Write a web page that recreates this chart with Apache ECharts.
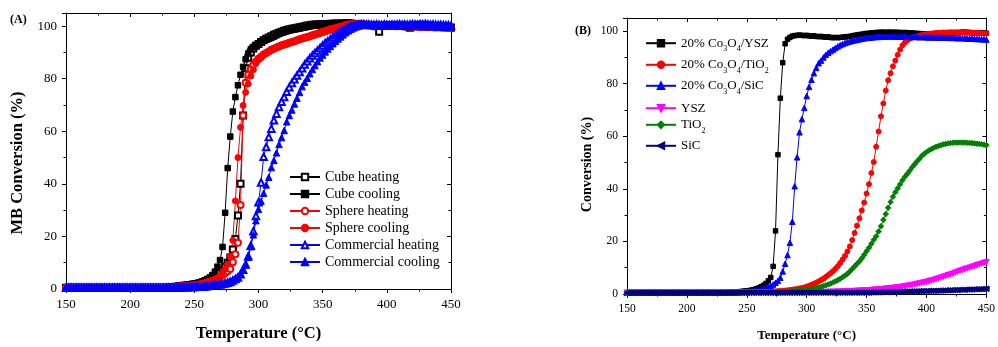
<!DOCTYPE html>
<html>
<head>
<meta charset="utf-8">
<script src="https://cdn.jsdelivr.net/npm/echarts@6/dist/echarts.min.js"></script>
<style>
html, body { margin: 0; padding: 0; background: #fff; }
#chart { width: 998px; height: 347px; }
</style>
</head>
<body>
<div id="chart"></div>
<script>
// sample temperatures (°C), shared by both panels
const temps = [
  150,152,154,156,158,160,162,164,166,168,
  170,172,174,176,178,180,182,184,186,188,
  190,192,194,196,198,200,202,204,206,208,
  210,212,214,216,218,220,222,224,226,228,
  230,232,234,236,238,240,242,244,246,248,
  250,252,254,256,258,260,262,264,266,268,
  270,272,274,276,278,280,282,284,286,288,
  290,292,294,296,298,300,302,304,306,308,
  310,312,314,316,318,320,322,324,326,328,
  330,332,334,336,338,340,342,344,346,348,
  350,352,354,356,358,360,362,364,366,368,
  370,372,374,376,378,380,382,384,386,388,
  390,392,394,396,398,400,402,404,406,408,
  410,412,414,416,418,420,422,424,426,428,
  430,432,434,436,438,440,442,444,446,448,
  450
];

// ---- panel A: MB conversion (%) ----
const cubeHeating = [
  0.5,0.5,0.5,0.5,0.5,0.5,0.5,0.5,0.5,0.5,
  0.5,0.5,0.5,0.5,0.5,0.5,0.5,0.5,0.5,0.5,
  0.5,0.5,0.5,0.5,0.5,0.5,0.5,0.5,0.5,0.5,
  0.5,0.5,0.5,0.5,0.5,0.5,0.5,0.5,0.5,0.5,
  0.6,0.7,0.8,0.9,1,1.1,1.2,1.3,1.4,1.5,
  1.6,1.8,2,2.3,2.6,3,3.4,4,4.6,5.4,
  6.2,7.2,8.5,10,12,15,19,28,40,66,
  84,88,90,91.5,92.5,93.2,94,94.6,95.2,95.7,
  96.2,96.7,97.1,97.5,97.9,98.2,98.5,98.8,99,99.2,
  99.4,99.6,99.8,100,100.2,100.3,100.5,100.6,100.6,100.7,
  100.7,100.8,100.8,100.9,100.9,101,100.9,101,101,101.1,
  101.2,101,100.8,100.7,100.6,100.5,100.4,100.4,100.3,100.3,
  100.2,100,97.9,100.1,100.2,100.3,100.2,100.3,100.2,100.2,
  100.3,100.2,100.1,99.9,99.4,100.2,100.4,100.3,100.5,100.3,
  100.2,100.3,100.1,100,100.1,99.9,100,99.8,99.7,99.6,
  99.5
];
const cubeCooling = [
  0.5,0.5,0.5,0.5,0.5,0.5,0.5,0.5,0.5,0.5,
  0.5,0.5,0.5,0.5,0.5,0.5,0.5,0.5,0.5,0.5,
  0.5,0.5,0.5,0.5,0.5,0.5,0.5,0.5,0.5,0.5,
  0.5,0.5,0.5,0.5,0.5,0.5,0.5,0.5,0.5,0.5,
  0.7,0.8,0.9,1,1.1,1.3,1.5,1.6,1.8,2,
  2.1,2.3,2.6,2.9,3.3,3.8,4.4,5.3,6.6,8.5,
  11,16,29,46,58,67.5,73,77.5,81.5,84.5,
  87.4,89.6,91.2,92.1,92.8,93.4,93.9,94.4,94.8,95.2,
  95.6,96,96.5,97,97.4,97.7,98,98.3,98.5,98.7,
  98.9,99.1,99.3,99.5,99.7,99.9,100.1,100.2,100.3,100.4,
  100.5,100.5,100.6,100.6,100.7,100.7,100.6,100.7,100.7,100.8,
  100.7,100.6,100.6,100.5,100.5,100.4,100.4,100.5,100.4,100.3,
  100.3,100.4,100.3,100.2,100.3,100.2,100.1,100.2,100.2,100.1,
  100.1,100.2,100.1,100,100.1,100.2,100.1,100,99.9,100,
  100,99.9,100,99.8,99.9,99.7,99.8,99.6,99.4,99.2,
  99
];
const sphereHeating = [
  0.5,0.5,0.5,0.5,0.5,0.5,0.5,0.5,0.5,0.5,
  0.5,0.5,0.5,0.5,0.5,0.5,0.5,0.5,0.5,0.5,
  0.5,0.5,0.5,0.5,0.5,0.5,0.5,0.5,0.5,0.5,
  0.5,0.5,0.5,0.5,0.5,0.5,0.5,0.5,0.5,0.5,
  0.6,0.6,0.7,0.8,0.9,1,1,1.1,1.2,1.3,
  1.4,1.5,1.7,1.9,2.1,2.4,2.7,3,3.4,3.9,
  4.5,5.2,6,6.8,7.6,10.2,13.2,17.6,32,66,
  78.5,81.5,83.6,85.3,86.5,87.6,88.4,89.2,89.8,90.4,
  91,91.4,91.9,92.3,92.7,93,93.3,93.7,94,94.3,
  94.6,95,95.3,95.6,95.9,96.2,96.5,96.8,97.1,97.5,
  97.8,98.1,98.4,98.7,99,99.2,99.5,99.8,100.1,100.4,
  100.6,100.7,100.8,100.8,100.7,100.7,100.6,100.6,100.5,100.5,
  100.4,100.4,100.3,100.3,100.2,100.2,100.1,100.2,100.1,100,
  100.1,100,99.9,100,99.9,99.8,99.9,99.8,99.7,99.8,
  99.7,99.6,99.7,99.6,99.5,99.6,99.5,99.4,99.5,99.4,
  99.3
];
const sphereCooling = [
  0.5,0.5,0.5,0.5,0.5,0.5,0.5,0.5,0.5,0.5,
  0.5,0.5,0.5,0.5,0.5,0.5,0.5,0.5,0.5,0.5,
  0.5,0.5,0.5,0.5,0.5,0.5,0.5,0.5,0.5,0.5,
  0.5,0.5,0.5,0.5,0.5,0.5,0.5,0.5,0.5,0.5,
  0.6,0.7,0.8,0.9,0.9,1,1.1,1.2,1.3,1.4,
  1.5,1.7,1.9,2.1,2.4,2.7,3,3.3,3.6,4,
  5,6.2,7.6,9.4,12.5,18.5,33.5,50,61.5,69.8,
  74.8,78,81,83.4,85.8,87.2,88,89,89.7,90.3,
  90.8,91.3,91.8,92.2,92.5,92.8,93.1,93.5,93.8,94.1,
  94.5,94.8,95.1,95.4,95.7,96,96.3,96.6,96.9,97.2,
  97.6,97.9,98.2,98.4,98.7,98.9,99.2,99.5,99.8,100.1,
  100.4,100.5,100.6,100.6,100.5,100.5,100.4,100.4,100.3,100.3,
  100.3,100.2,100.2,100.1,100.2,100.1,100.1,100,100.1,100,
  100,99.9,99.9,99.8,99.9,99.8,99.7,99.7,99.6,99.7,
  99.6,99.5,99.6,99.5,99.4,99.5,99.4,99.3,99.4,99.3,
  99.2
];
const commHeating = [
  0.5,0.5,0.5,0.5,0.5,0.5,0.5,0.5,0.5,0.5,
  0.5,0.5,0.5,0.5,0.5,0.5,0.5,0.5,0.5,0.5,
  0.5,0.5,0.5,0.5,0.5,0.5,0.5,0.5,0.5,0.5,
  0.5,0.5,0.5,0.5,0.5,0.5,0.5,0.5,0.5,0.5,
  0.5,0.5,0.6,0.6,0.6,0.7,0.7,0.7,0.8,0.8,
  0.8,0.9,0.9,1,1,1.1,1.2,1.3,1.4,1.5,
  1.7,1.9,2.1,2.4,2.7,3.2,3.8,4.4,5.6,7.3,
  9.3,12.5,16.5,22,27.8,33,40.5,50.3,54,57.8,
  61,64.2,66.7,69.2,71.2,73,75,76.8,78.4,79.8,
  81.2,82.6,84,85.4,86.6,87.8,88.8,89.8,90.7,91.7,
  92.6,93.6,94.3,95,95.8,96.5,97.2,97.8,98.4,99,
  99.5,99.9,100.3,100.5,100.6,100.7,100.7,100.6,100.6,100.5,
  100.5,100.6,100.5,100.4,100.6,100.5,100.4,100.6,100.5,100.6,
  100.7,100.5,100.6,100.5,100.6,100.7,100.6,100.5,100.7,100.6,
  100.8,100.6,100.5,100.6,100.5,100.4,100.5,100.4,100.3,100.3,
  100.2
];
const commCooling = [
  0.5,0.5,0.5,0.5,0.5,0.5,0.5,0.5,0.5,0.5,
  0.5,0.5,0.5,0.5,0.5,0.5,0.5,0.5,0.5,0.5,
  0.5,0.5,0.5,0.5,0.5,0.5,0.5,0.5,0.5,0.5,
  0.5,0.5,0.5,0.5,0.5,0.5,0.5,0.5,0.5,0.5,
  0.5,0.5,0.5,0.5,0.6,0.6,0.6,0.6,0.6,0.6,
  0.6,0.7,0.7,0.8,0.8,0.9,1,1.2,1.4,1.6,
  1.9,2.1,2.4,2.7,3.1,3.5,4,4.8,5.9,7.4,
  9.2,12.1,16.1,20.6,26,30.3,33.4,36.4,39.6,42.5,
  46.2,48.9,51.8,55,57.6,60.3,63.6,66,68.1,70.4,
  72.6,74.8,77,78.7,80.2,81.9,83.5,85,86.5,87.9,
  89,90.2,91.3,92.3,93.3,94.2,95.1,95.9,96.7,97.5,
  98.2,98.8,99.3,99.7,100,100.2,100.3,100.4,100.4,100.3,
  100.3,100.2,100.3,100.2,100.1,100.2,100.1,100.2,100.1,100,
  100.1,100,100.1,100,99.9,100,99.9,100,99.9,99.8,
  99.9,99.8,99.9,99.8,99.7,99.8,99.7,99.6,99.7,99.6,
  99.6
];

// ---- panel B: conversion (%) ----
const co3o4Ysz = [
  0.5,0.5,0.5,0.5,0.5,0.5,0.5,0.5,0.5,0.5,
  0.5,0.5,0.5,0.5,0.5,0.5,0.5,0.5,0.5,0.5,
  0.5,0.5,0.5,0.5,0.5,0.5,0.5,0.5,0.5,0.5,
  0.5,0.5,0.5,0.5,0.5,0.5,0.5,0.5,0.5,0.5,
  0.5,0.6,0.6,0.7,0.7,0.8,0.8,0.9,1,1.1,
  1.2,1.3,1.5,1.7,2,2.3,2.8,3.3,4,5,
  6.3,10.5,24,53,74.5,88,95.2,96.9,97.6,98.1,
  98.3,98.4,98.5,98.4,98.3,98.4,98.2,98.1,98.2,98,
  97.9,98,97.8,97.7,97.8,97.6,97.5,97.6,97.5,97.6,
  97.7,97.8,97.9,98,98.2,98.4,98.5,98.7,98.8,99,
  99.1,99.2,99.3,99.4,99.5,99.5,99.6,99.6,99.5,99.6,
  99.6,99.5,99.6,99.5,99.5,99.4,99.5,99.4,99.3,99.3,
  99.2,99.1,99.1,99,98.9,98.9,98.8,98.7,98.8,98.7,
  98.7,98.8,98.8,98.9,99,99.1,99.2,99.3,99.4,99.5,
  99.6,99.6,99.5,99.5,99.4,99.4,99.3,99.4,99.3,99.3,
  99.2
];
const co3o4Tio2 = [
  0.5,0.5,0.5,0.5,0.5,0.5,0.5,0.5,0.5,0.5,
  0.5,0.5,0.5,0.5,0.5,0.5,0.5,0.5,0.5,0.5,
  0.5,0.5,0.5,0.5,0.5,0.5,0.5,0.5,0.5,0.5,
  0.5,0.5,0.5,0.5,0.5,0.5,0.5,0.5,0.5,0.5,
  0.5,0.5,0.5,0.5,0.5,0.6,0.6,0.6,0.6,0.6,
  0.6,0.6,0.7,0.7,0.7,0.8,0.8,0.8,0.9,0.9,
  0.9,1,1,1.1,1.1,1.2,1.3,1.4,1.5,1.6,
  1.8,1.9,2.1,2.3,2.5,2.8,3.1,3.5,3.9,4.3,
  4.8,5.3,5.8,6.5,7.2,7.9,8.7,9.6,10.6,11.8,
  13.1,14.5,16.2,18.1,20.5,23.2,26,28.8,31.8,34.8,
  38.2,41.8,46,50.2,56,61.8,67.6,72.5,77.4,81.3,
  84,86.6,88.8,91,93,94.6,95.7,96.5,97.1,97.5,
  97.8,98,98.3,98.5,98.7,98.8,99,99.1,99.2,99.3,
  99.4,99.4,99.5,99.5,99.5,99.6,99.5,99.6,99.5,99.5,
  99.5,99.4,99.5,99.4,99.3,99.4,99.3,99.2,99.2,99.1,
  99.1
];
const co3o4Sic = [
  0.5,0.5,0.5,0.5,0.5,0.5,0.5,0.5,0.5,0.5,
  0.5,0.5,0.5,0.5,0.5,0.5,0.5,0.5,0.5,0.5,
  0.5,0.5,0.5,0.5,0.5,0.5,0.5,0.5,0.5,0.5,
  0.5,0.5,0.5,0.5,0.5,0.5,0.5,0.5,0.5,0.5,
  0.5,0.5,0.5,0.6,0.6,0.6,0.7,0.7,0.8,0.8,
  0.9,1,1.1,1.2,1.3,1.5,1.7,2,2.3,2.7,
  3.1,3.6,4.3,5,6.2,8.6,11.5,14.8,19.5,27.5,
  41,52,61.5,66.5,70.8,75.3,78.8,81.5,84,86,
  87.8,88.8,90,91,91.8,92.4,93,93.6,94.2,94.7,
  95.1,95.5,95.8,96.1,96.3,96.5,96.7,96.9,97.1,97.3,
  97.4,97.5,97.6,97.7,97.8,97.8,97.9,97.9,97.9,98,
  98,97.9,98,97.9,97.9,98,97.9,97.9,97.8,97.9,
  97.8,97.8,97.7,97.8,97.7,97.7,97.6,97.7,97.6,97.6,
  97.6,97.5,97.6,97.5,97.5,97.4,97.5,97.4,97.3,97.4,
  97.3,97.3,97.2,97.2,97.1,97.1,97,97,96.9,96.9,
  96.8
];
const ysz = [
  0.5,0.5,0.5,0.5,0.5,0.5,0.5,0.5,0.5,0.5,
  0.5,0.5,0.5,0.5,0.5,0.5,0.5,0.5,0.5,0.5,
  0.5,0.5,0.5,0.5,0.5,0.5,0.5,0.5,0.5,0.5,
  0.5,0.5,0.5,0.5,0.5,0.5,0.5,0.5,0.5,0.5,
  0.5,0.5,0.5,0.5,0.5,0.5,0.5,0.5,0.5,0.5,
  0.5,0.5,0.5,0.5,0.5,0.5,0.5,0.5,0.5,0.5,
  0.5,0.5,0.5,0.5,0.5,0.5,0.5,0.5,0.5,0.5,
  0.5,0.5,0.5,0.5,0.6,0.6,0.6,0.6,0.6,0.6,
  0.7,0.7,0.7,0.7,0.8,0.8,0.8,0.8,0.9,0.9,
  0.9,1,1,1,1.1,1.1,1.2,1.2,1.3,1.3,
  1.4,1.4,1.5,1.6,1.6,1.7,1.8,1.9,2,2.1,
  2.2,2.3,2.4,2.5,2.6,2.8,2.9,3.1,3.2,3.4,
  3.6,3.8,4,4.2,4.4,4.6,4.8,5.1,5.3,5.6,
  5.9,6.2,6.5,6.8,7.1,7.4,7.7,8.1,8.5,8.8,
  9.1,9.4,9.7,10,10.3,10.6,10.9,11.2,11.5,11.8,
  12.1
];
const tio2 = [
  0.5,0.5,0.5,0.5,0.5,0.5,0.5,0.5,0.5,0.5,
  0.5,0.5,0.5,0.5,0.5,0.5,0.5,0.5,0.5,0.5,
  0.5,0.5,0.5,0.5,0.5,0.5,0.5,0.5,0.5,0.5,
  0.5,0.5,0.5,0.5,0.5,0.5,0.5,0.5,0.5,0.5,
  0.5,0.5,0.5,0.5,0.5,0.5,0.5,0.5,0.5,0.5,
  0.5,0.5,0.5,0.5,0.5,0.5,0.5,0.5,0.5,0.5,
  0.6,0.6,0.7,0.7,0.8,0.8,0.9,0.9,1,1,
  1.1,1.2,1.3,1.4,1.5,1.6,1.7,1.9,2.1,2.3,
  2.5,2.7,3,3.3,3.6,4,4.4,4.8,5.3,5.8,
  6.4,7,7.7,8.6,9.5,10.5,11.5,12.4,13.6,14.9,
  16.3,17.6,19.1,20.6,22,23.8,25.8,28.2,30.4,32.8,
  35,37,38.7,40.2,41.8,43.3,44.6,45.7,46.9,48.2,
  49.3,50.4,51.4,52.5,53.3,54,54.6,55.1,55.6,56,
  56.3,56.6,56.9,57.1,57.3,57.4,57.5,57.6,57.6,57.6,
  57.6,57.6,57.5,57.5,57.4,57.3,57.2,57.1,57,56.8,
  56.6
];
const sic = [
  0.5,0.5,0.5,0.5,0.5,0.5,0.5,0.5,0.5,0.5,
  0.5,0.5,0.5,0.5,0.5,0.5,0.5,0.5,0.5,0.5,
  0.5,0.5,0.5,0.5,0.5,0.5,0.5,0.5,0.5,0.5,
  0.5,0.5,0.5,0.5,0.5,0.5,0.5,0.5,0.5,0.5,
  0.5,0.5,0.5,0.5,0.5,0.5,0.5,0.5,0.5,0.5,
  0.5,0.5,0.5,0.5,0.5,0.5,0.5,0.5,0.5,0.5,
  0.5,0.5,0.5,0.5,0.5,0.5,0.5,0.5,0.5,0.5,
  0.5,0.5,0.5,0.5,0.5,0.5,0.5,0.5,0.5,0.5,
  0.5,0.5,0.5,0.5,0.5,0.5,0.5,0.5,0.5,0.5,
  0.5,0.5,0.5,0.5,0.5,0.5,0.5,0.5,0.5,0.5,
  0.5,0.5,0.6,0.6,0.6,0.6,0.7,0.7,0.7,0.7,
  0.8,0.8,0.8,0.8,0.9,0.9,0.9,0.9,1,1,
  1,1,1.1,1.1,1.1,1.1,1.2,1.2,1.2,1.2,
  1.3,1.3,1.3,1.4,1.4,1.4,1.5,1.5,1.5,1.6,
  1.6,1.6,1.7,1.7,1.7,1.8,1.8,1.8,1.9,1.9,
  2
];

const namesA = ['Cube heating', 'Cube cooling', 'Sphere heating', 'Sphere cooling', 'Commercial heating', 'Commercial cooling'];
const namesB = ['20% Co3O4/YSZ', '20% Co3O4/TiO2', '20% Co3O4/SiC', 'YSZ', 'TiO2', 'SiC'];
const xTicks = [150, 450, 50];
const yTicks = [0, 105, 20];

const FONT = '"Liberation Serif", "Times New Roman", serif';

function pair(vals) {
  return temps.map((t, i) => [t, vals[i]]);
}

function xAxis(gridIndex, pos, labelSize, nameSize, nameGap) {
  const main = pos === 'bottom';
  return {
    type: 'value', gridIndex, position: pos,
    min: xTicks[0], max: xTicks[1], interval: xTicks[2],
    name: main ? 'Temperature (°C)' : '',
    nameLocation: 'middle', nameGap,
    nameTextStyle: { fontFamily: FONT, fontWeight: 'bold', fontSize: nameSize, color: '#000' },
    axisLine: { show: true, onZero: false, lineStyle: { color: '#000', width: 1 } },
    axisTick: { show: true, inside: !main, length: 4, lineStyle: { color: '#000' } },
    minorTick: { show: true, splitNumber: 2, length: 2.5, lineStyle: { color: '#000' } },
    axisLabel: { show: main, fontFamily: FONT, fontSize: labelSize, color: '#000', margin: 9 },
    splitLine: { show: false },
  };
}

function yAxis(gridIndex, pos, labelSize, name, nameSize, nameGap, shift) {
  const main = pos === 'left';
  return {
    type: 'value', gridIndex, position: pos,
    min: yTicks[0], max: yTicks[1], interval: yTicks[2],
    name: main ? name : '',
    nameLocation: 'middle', nameGap,
    nameTextStyle: { fontFamily: FONT, fontWeight: 'bold', fontSize: nameSize, color: '#000', padding: [0, shift, 0, 0] },
    axisLine: { show: true, onZero: false, lineStyle: { color: '#000', width: 1 } },
    axisTick: { show: true, inside: !main, length: 4, lineStyle: { color: '#000' } },
    minorTick: { show: true, splitNumber: 2, length: 2.5, lineStyle: { color: '#000' } },
    axisLabel: {
      show: main, fontFamily: FONT, fontSize: labelSize, color: '#000', margin: 9,
      formatter: (v) => (v % 20 === 0 ? String(v) : ''),
    },
    splitLine: { show: false },
  };
}

function line(name, vals, color, symbol, size, xi, yi, rotate) {
  return {
    name, type: 'line', xAxisIndex: xi, yAxisIndex: yi,
    data: pair(vals),
    symbol, symbolSize: size, symbolRotate: rotate || 0,
    showAllSymbol: true,
    lineStyle: { color, width: 1 },
    itemStyle: { color, borderColor: color, borderWidth: 1 },
    emphasis: { disabled: true },
  };
}

const seriesA = [
  line(namesA[0], cubeHeating, '#000000', 'emptyRect', 6, 0, 0),
  line(namesA[1], cubeCooling, '#000000', 'rect', 5.5, 0, 0),
  line(namesA[2], sphereHeating, '#ff0000', 'emptyCircle', 6, 0, 0),
  line(namesA[3], sphereCooling, '#ff0000', 'circle', 6, 0, 0),
  line(namesA[4], commHeating, '#0000ff', 'emptyTriangle', 6.5, 0, 0),
  line(namesA[5], commCooling, '#0000ff', 'triangle', 6.5, 0, 0),
];
const seriesB = [
  line(namesB[0], co3o4Ysz, '#000000', 'rect', 4.5, 2, 2),
  line(namesB[1], co3o4Tio2, '#ff0000', 'circle', 5, 2, 2),
  line(namesB[2], co3o4Sic, '#0000ff', 'triangle', 5.5, 2, 2),
  line(namesB[3], ysz, '#ff00ff', 'triangle', 5.5, 2, 2, 180),
  line(namesB[4], tio2, '#008000', 'diamond', 5.5, 2, 2),
  line(namesB[5], sic, '#000080', 'triangle', 5.5, 2, 2, 90),
];

// subscript the digits that follow a letter (Co3O4, TiO2)
function richName(name) {
  return '{m|' + name.replace(/([A-Za-z])(\d)/g, '$1}{s|$2}{m|') + '}';
}

const legendCentersB = [41.7, 63.3, 84.3, 106.7, 123.3, 144.3];
const legendsB = namesB.map((n, i) => ({
  data: [n],
  left: 640, top: legendCentersB[i] - 10,
  itemWidth: 30, itemHeight: 8, itemGap: 0,
  selectedMode: false,
  formatter: richName,
  textStyle: {
    fontFamily: FONT, fontSize: 13, color: '#000',
    rich: {
      m: { fontFamily: FONT, fontSize: 13, color: '#000', lineHeight: 20, verticalAlign: 'middle' },
      s: { fontFamily: FONT, fontSize: 8, color: '#000', lineHeight: 5, verticalAlign: 'bottom' },
    },
  },
}));

const chart = echarts.init(document.getElementById('chart'));
chart.setOption({
  animation: false,
  backgroundColor: '#ffffff',
  grid: [
    { left: 66, top: 13, width: 385, height: 283 },
    { left: 627, top: 18, width: 365, height: 279 },
  ],
  xAxis: [
    xAxis(0, 'bottom', 13, 16.5, 36),
    xAxis(0, 'top', 13, 16.5, 36),
    xAxis(1, 'bottom', 11.5, 13, 35),
    xAxis(1, 'top', 11.5, 13, 35),
  ],
  yAxis: [
    yAxis(0, 'left', 13, 'MB Conversion (%)', 16.5, 40, 24),
    yAxis(0, 'right', 13, '', 16.5, 40, 0),
    yAxis(1, 'left', 11.5, 'Conversion (%)', 14, 33, 17),
    yAxis(1, 'right', 11.5, '', 14, 33, 0),
  ],
  legend: [
    {
      data: namesA, orient: 'vertical',
      left: 284, top: 165,
      itemWidth: 30, itemHeight: 8, itemGap: 3,
      selectedMode: false,
      textStyle: { fontFamily: FONT, fontSize: 14, color: '#000', lineHeight: 14 },
    },
    ...legendsB,
  ],
  graphic: [
    { type: 'text', left: 10, top: 14, style: { text: '(A)', font: 'bold 12px "Liberation Serif"', fill: '#000' } },
    { type: 'text', left: 575, top: 25, style: { text: '(B)', font: 'bold 12px "Liberation Serif"', fill: '#000' } },
  ],
  series: [...seriesA, ...seriesB],
});
</script>
</body>
</html>
